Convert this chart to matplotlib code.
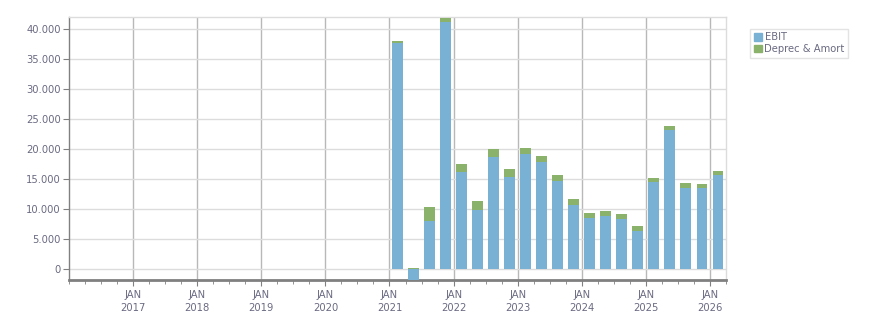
import matplotlib
matplotlib.use("Agg")
import matplotlib.pyplot as plt
from matplotlib.ticker import FuncFormatter, FixedLocator
from matplotlib.patches import Patch

quarters = ["2021Q1", "2021Q2", "2021Q3", "2021Q4",
            "2022Q1", "2022Q2", "2022Q3", "2022Q4",
            "2023Q1", "2023Q2", "2023Q3", "2023Q4",
            "2024Q1", "2024Q2", "2024Q3", "2024Q4",
            "2025Q1", "2025Q2", "2025Q3", "2025Q4",
            "2026Q1"]
ebit = [37600, -1830, 8000, 41200,
        16200, 9900, 18650, 15300,
        19200, 17900, 14650, 10650,
        8550, 8900, 8300, 6350,
        14550, 23200, 13550, 13550,
        15650]
deprec = [400, 120, 2300, 630,
          1300, 1450, 1350, 1350,
          950, 1000, 1000, 1000,
          780, 780, 900, 820,
          620, 620, 780, 620,
          680]
years = list(range(2017, 2027))
year_labels = [f"JAN\n{y}" for y in years]
series_names = ["EBIT", "Deprec & Amort"]

blue = "#78b1d4"
green = "#8ab26a"
text_c = "#6a6a82"
fs = 7.2

def qpos(q):
    y, n = int(q[:4]), int(q[-1])
    return y + (n - 1) * 0.25 + 0.125

xs = [qpos(q) for q in quarters]

fig = plt.figure(figsize=(8.76, 3.13), dpi=100)
ax = fig.add_axes([69/876, 1-280/313, (726-69)/876, (280-17)/313])

ax.bar(xs, ebit, width=0.17, color=blue, zorder=3)
bottoms = [max(e, 0) for e in ebit]
ax.bar(xs, deprec, width=0.17, bottom=bottoms, color=green, zorder=3)

ax.set_xlim(2016.0, 2026.25)
ax.set_ylim(-1830, 42000)

ax.set_yticks(range(0, 40001, 5000))
ax.yaxis.set_major_formatter(FuncFormatter(lambda v, p: f"{int(v):,}".replace(",", ".")))
ax.xaxis.set_major_locator(FixedLocator(years))
ax.set_xticklabels(year_labels)
ax.xaxis.set_minor_locator(FixedLocator([2016 + i * 0.25 for i in range(42)]))

ax.grid(axis="y", color="#dcdcdc", linewidth=1, zorder=0)
ax.grid(axis="x", which="major", color="#b8b8b8", linewidth=1, zorder=0)

for s in ["top", "right"]:
    ax.spines[s].set_color("#dcdcdc")
    ax.spines[s].set_linewidth(1)
ax.spines["left"].set_color("#808080")
ax.spines["left"].set_linewidth(1)
ax.spines["bottom"].set_color("#808080")
ax.spines["bottom"].set_linewidth(2)

ax.tick_params(axis="y", length=4, color="#808080", labelsize=fs, labelcolor=text_c, pad=2)
ax.tick_params(axis="x", which="major", length=4, color="#808080", labelsize=fs, labelcolor=text_c, pad=3)
ax.tick_params(axis="x", which="minor", length=3, color="#808080")
for t in ax.get_xticklabels():
    t.set_linespacing(1.35)

handles = [Patch(color=blue), Patch(color=green)]
leg = fig.legend(handles, series_names, loc="upper left", bbox_to_anchor=(750/876, 1-29/313),
                 fontsize=fs, frameon=True, fancybox=False, handlelength=0.8, handleheight=0.8,
                 handletextpad=0.3, borderpad=0.35, labelspacing=0.15, borderaxespad=0)
leg.get_frame().set_edgecolor("#dcdcdc")
leg.get_frame().set_linewidth(1)
for t in leg.get_texts():
    t.set_color(text_c)

fig.savefig("out.png", dpi=100)
